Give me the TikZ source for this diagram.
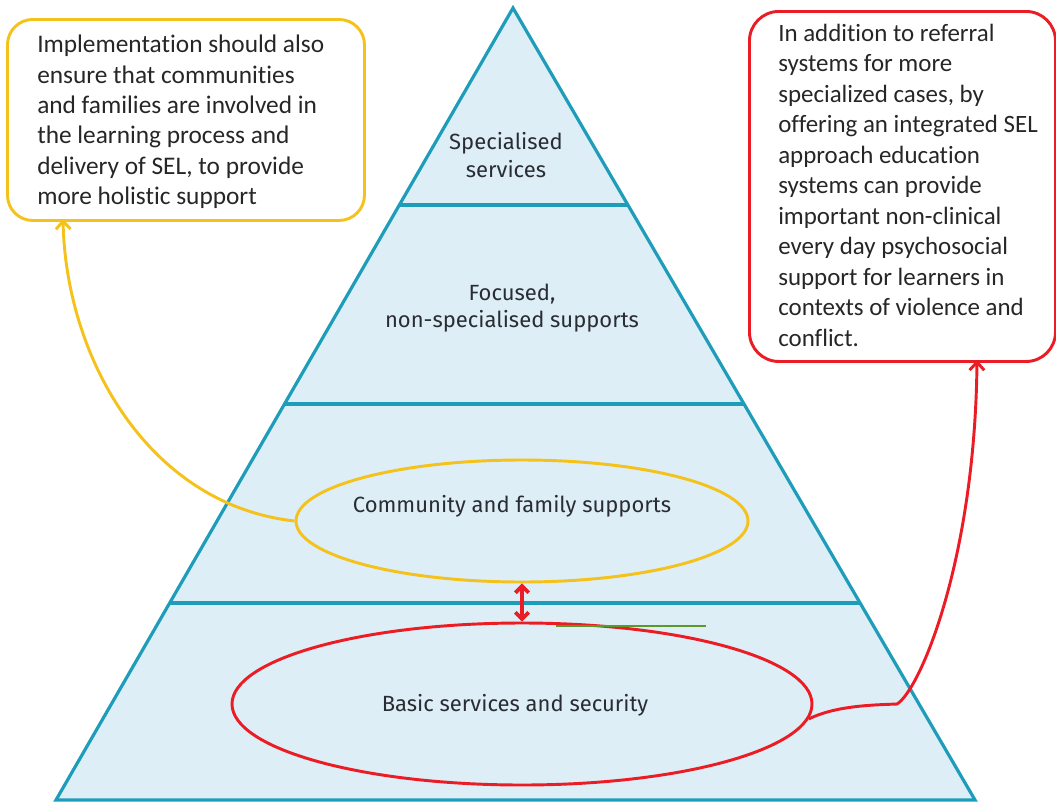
\documentclass[tikz,border=0pt]{standalone}
\usepackage{fontspec}
\setmainfont{Carlito}[RawFeature={-liga;-calt;-clig}]
\newfontfamily\dinfont{Fira Sans}
\usetikzlibrary{shapes.geometric,arrows.meta}
\definecolor{pyrfill}{HTML}{DDEEF6}
\definecolor{pyrline}{HTML}{1E9DBB}
\definecolor{selyellow}{HTML}{F5C21B}
\definecolor{selred}{HTML}{EC1C24}
\definecolor{selgreen}{HTML}{5A9A2A}
\definecolor{labeltext}{HTML}{2A2C33}
\begin{document}
\begin{tikzpicture}[x=0.75pt,y=-0.75pt,
  layer/.style={pyrline,line width=2.4pt},
  tierlabel/.style={font=\dinfont\fontsize{16.5}{20.5}\selectfont,text=labeltext,align=center},
  notebox/.style={draw,line width=2.2pt,anchor=north west,inner sep=0pt},
  notetext/.style={align=left,anchor=west,inner sep=0pt,text=black!85},
  ring/.style={ellipse,draw,line width=2.2pt},
  curved/.style={line width=2.2pt,-{Straight Barb[length=6pt,width=11pt]}}]
\useasboundingbox (0,0) rectangle (1056,803);
\fill[pyrfill] (513,8) -- (56,800) -- (975,800) -- cycle;
\draw[layer] (513,8) -- (56,800) -- (975,800) -- cycle;
\draw[layer] (399,205) -- (628,205);
\draw[layer] (285,404) -- (744,404);
\draw[layer] (170,603) -- (860,603);
\node (spec) at (506,155) [tierlabel] {Specialised\\services};
\node (focus) at (512,308) [tierlabel] {Focused,\\non-specialised supports};
\node (famring) at (522,521) [ring,draw=selyellow,minimum width=339pt,minimum height=91.5pt] {};
\node (basring) at (522,704) [ring,draw=selred,minimum width=435pt,minimum height=121.5pt] {};
\node (famlabel) at (512,506) [tierlabel] {Community and family supports};
\node (baslabel) at (515,705) [tierlabel] {Basic services and security};
\draw[selgreen,line width=0.8pt] (556,626) -- (706,626);
\draw[selred,line width=2.8pt,{Straight Barb[length=5pt,width=10pt]}-{Straight Barb[length=5pt,width=10pt]}] (famring.south) -- (basring.north);
\node (yelnote) at (6,18) [notebox,draw=selyellow,rounded corners=19pt,minimum width=267.75pt,minimum height=150.75pt] {};
\node (yeltext) at ([xshift=23.25pt,yshift=-1.5pt]yelnote.west) [notetext,font=\fontsize{19}{22.8}\selectfont]
  {Implementation should also\\ensure that communities\\and families are involved in\\the learning process and\\delivery of SEL, to provide\\more holistic support};
\node (rednote) at (748,10) [notebox,draw=selred,rounded corners=22pt,minimum width=229.5pt,minimum height=262.5pt] {};
\node (redtext) at ([xshift=22.5pt,yshift=1pt]rednote.west) [notetext,font=\fontsize{18.7}{22.9}\selectfont]
  {In addition to referral\\systems for more\\specialized cases, by\\offering an integrated SEL\\approach education\\systems can provide\\important non-clinical\\every day psychosocial\\support for learners in\\contexts of violence and\\conflict.};
\coordinate (yelend) at (63,219);
\coordinate (redend) at (977,360);
\draw[curved,selyellow] (famring.west) .. controls (150,505) and (66,360) .. (yelend);
\draw[curved,selred] (basring.-3) .. controls (835,706) and (870,705) .. (897,704) .. controls (920,690) and (975,560) .. (redend);
\end{tikzpicture}
\end{document}
